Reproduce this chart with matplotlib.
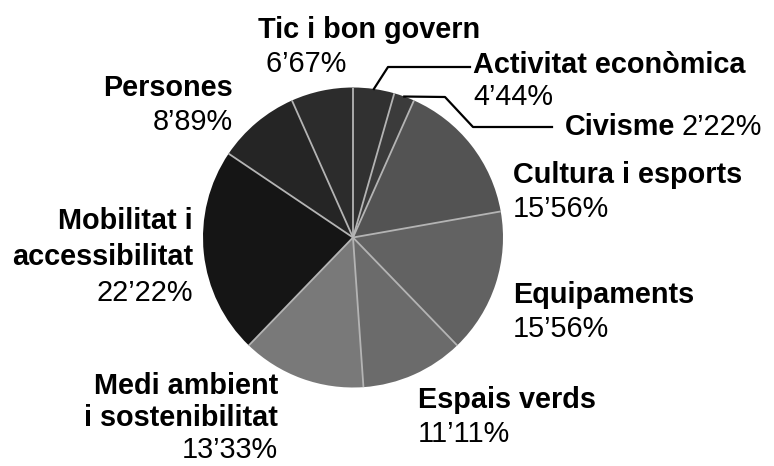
import numpy as np
import matplotlib
matplotlib.use("Agg")
import matplotlib.pyplot as plt

W, H = 774, 466
categories = ["Tic i bon govern", "Activitat econòmica", "Civisme", "Cultura i esports",
              "Equipaments", "Espais verds", "Medi ambient\ni sostenibilitat",
              "Mobilitat i\naccessibilitat", "Persones"]
values = [6.67, 4.44, 2.22, 15.56, 15.56, 11.11, 13.33, 22.22, 8.89]
# ordre de dessin : sens horaire depuis midi, Activitat en premier
order = [1, 2, 3, 4, 5, 6, 7, 8, 0]
colors = {0: "#2c2c2c", 1: "#313131", 2: "#3b3b3b", 3: "#535353", 4: "#626262",
          5: "#6b6b6b", 6: "#797979", 7: "#151515", 8: "#252525"}

CX, CY, R = 353, 237.5, 150
FONT = "Liberation Sans"
FS = 20.8


def pct(v):
    return f"{v:.2f}".replace(".", "\u2019") + "%"


def Y(y):  # pixels depuis le haut -> coordonnées axes
    return H - y


fig = plt.figure(figsize=(W / 100, H / 100), dpi=100)
ax = fig.add_axes([0, 0, 1, 1])

vals = [values[i] for i in order]
cols = [colors[i] for i in order]
wedges, _ = ax.pie(vals, colors=cols, startangle=90, counterclock=False,
                   center=(CX, Y(CY)), radius=R, frame=True,
                   wedgeprops=dict(linewidth=0))
ax.set_xlim(0, W); ax.set_ylim(0, H); ax.set_aspect("equal"); ax.axis("off")

# séparateurs radiaux clairs
cum = np.cumsum([0] + vals) / sum(vals)
for f in cum[:-1]:
    a = np.deg2rad(90 - 360 * f)
    ax.plot([CX, CX + R * np.cos(a)], [Y(CY), Y(CY) + R * np.sin(a)],
            color="#b4b4b4", lw=1.3, solid_capstyle="butt")

# lignes de rappel pour les petites parts
mids = {order[k]: np.deg2rad(90 - 360 * (cum[k] + cum[k + 1]) / 2) for k in range(len(order))}
a = mids[1]
ax.plot([CX + R * np.cos(a), 388, 470], [Y(CY) + R * np.sin(a), Y(67), Y(67)],
        color="black", lw=1.6)
a = mids[2]
ax.plot([CX + R * np.cos(a), 445, 473, 552], [Y(CY) + R * np.sin(a), Y(97), Y(127), Y(127)],
        color="black", lw=1.6)


def label(x, y, lines, ha="left", step=34):
    for k, (txt, bold) in enumerate(lines):
        ax.text(x, Y(y + k * step), txt, ha=ha, va="center", fontsize=FS, family=FONT,
                fontweight="bold" if bold else "normal")


label(258, 30, [(categories[0], True), (" " + pct(values[0]), False)])
label(473, 65, [(categories[1], True), (pct(values[1]), False)], step=32)
t = ax.text(565, Y(127), categories[2], ha="left", va="center", fontsize=FS,
            family=FONT, fontweight="bold")
fig.canvas.draw()
bb = t.get_window_extent()
ax.text(bb.x1 + 6, Y(127), pct(values[2]), ha="left", va="center", fontsize=FS, family=FONT)
label(513, 175, [(categories[3], True), (pct(values[3]), False)])
label(513, 295, [(categories[4], True), (pct(values[4]), False)])
label(418, 400, [(categories[5], True), (pct(values[5]), False)])
l1, l2 = categories[6].split("\n")
label(278, 386, [(l1, True), (l2, True), (pct(values[6]), False)], ha="right", step=32)
l1, l2 = categories[7].split("\n")
label(193, 221, [(l1, True), (l2, True), (pct(values[7]), False)], ha="right", step=36)
label(233, 88, [(categories[8], True), (pct(values[8]), False)], ha="right")

fig.savefig("out.png", dpi=100)
